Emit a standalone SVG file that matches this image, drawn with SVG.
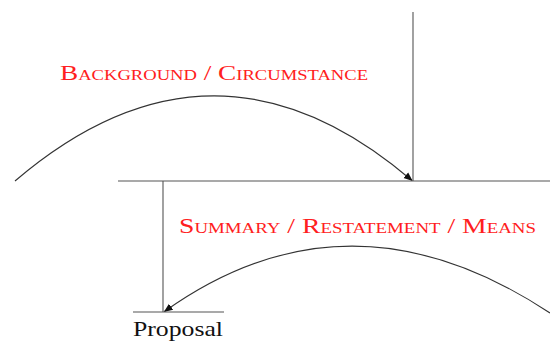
<svg xmlns="http://www.w3.org/2000/svg" width="550" height="342" viewBox="0 0 550 342">
<style>
.ln{stroke:#555;stroke-width:1.1;fill:none}
.arc{stroke:#333;stroke-width:1.1;fill:none;marker-end:url(#ah)}
.lbl{font-family:"Liberation Serif",serif;font-variant:small-caps;fill:#ff2020;font-size:22px}
.nm{font-family:"Liberation Serif",serif;fill:#111;font-size:21px}
</style>
<defs>
<marker id="ah" viewBox="0 0 10 10" refX="9" refY="5" markerWidth="9" markerHeight="9" markerUnits="userSpaceOnUse" orient="auto">
<path d="M0,1 L10,5 L0,9 Z" fill="#111"/>
</marker>
</defs>
<g id="connectors">
<path class="arc" d="M15,181 Q214,11 412,180.5"/>
<path class="arc" d="M550,313 Q349,180 164.5,311.5"/>
</g>
<g id="frame1">
<line class="ln" x1="413" y1="12" x2="413" y2="181"/>
<line class="ln" x1="118" y1="181" x2="550" y2="181"/>
</g>
<g id="frame2">
<line class="ln" x1="163" y1="181" x2="163" y2="312"/>
<line class="ln" x1="133" y1="312" x2="224" y2="312"/>
</g>
<g id="label-background">
<text class="lbl" x="60" y="79.5" textLength="308" lengthAdjust="spacingAndGlyphs">Background / Circumstance</text>
</g>
<g id="label-summary">
<text class="lbl" x="179" y="233" textLength="357" lengthAdjust="spacingAndGlyphs">Summary / Restatement / Means</text>
</g>
<g id="node-proposal">
<text class="nm" x="133" y="336" textLength="90" lengthAdjust="spacingAndGlyphs">Proposal</text>
</g>
</svg>
